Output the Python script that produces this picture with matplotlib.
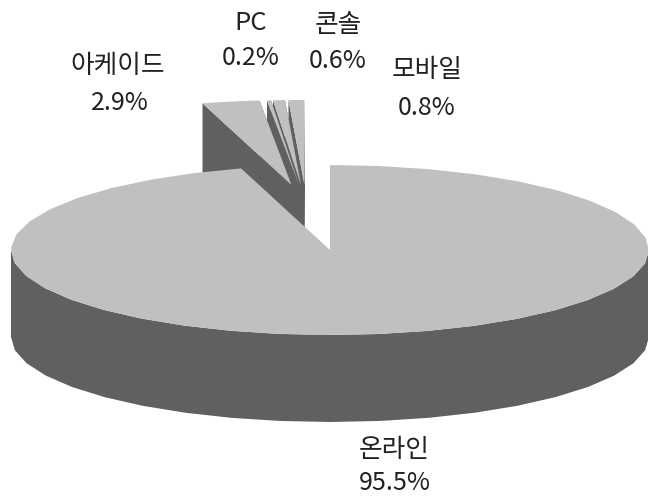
import matplotlib
matplotlib.use("Agg")
import matplotlib.pyplot as plt
from matplotlib.patches import Polygon
import numpy as np

plt.rcParams['font.family'] = ['Noto Sans CJK KR', 'DejaVu Sans']

# clockwise from 12 o'clock
labels = ["온라인", "아케이드", "PC", "콘솔", "모바일"]
values = [95.5, 2.9, 0.2, 0.6, 0.8]

# pulled out slices get their own centre, the big one stays put
centres = [(330, 250), (291.5, 185), (299, 185), (301, 185), (304.5, 185)]
name_pos = [(394, 450), (118, 66), (251, 23), (338, 25), (427, 70)]
value_pos = [(395, 483), (120, 103), (251, 58), (338, 61), (427, 108)]

rx, ry = 319, 85
depth = 87
light = "#c0c0c0"
dark = "#606060"


def edge(c, t):
    # t in degrees, clockwise from the top of the ellipse
    t = np.radians(t)
    return np.column_stack([c[0] + rx * np.sin(t), c[1] - ry * np.cos(t)])


fig = plt.figure(figsize=(6.48, 4.96), dpi=100)
ax = fig.add_axes([0, 0, 1, 1])
ax.set_xlim(0, 648)
ax.set_ylim(496, 0)
ax.axis("off")

angles = np.cumsum([0] + values) / sum(values) * 360
drop = np.array([0, depth])

# small slices: all cut faces first, tops over them
arcs = {}
for i in range(1, 5):
    c = centres[i]
    arcs[i] = edge(c, np.linspace(angles[i], angles[i + 1], 4))
    for end in (arcs[i][0], arcs[i][-1]):
        face = [end, c, np.array(c) + drop, end + drop]
        ax.add_patch(Polygon(face, color=dark, lw=0))
for i in range(1, 5):
    ax.add_patch(Polygon(np.vstack([[centres[i]], arcs[i]]), color=light, lw=0))

# big slice sits in front of them; coarse steps give the faceted rim
c = centres[0]
front = edge(c, np.arange(90, 271, 9))
ax.add_patch(Polygon(np.vstack([front, (front + drop)[::-1]]), color=dark, lw=0))
top = edge(c, np.linspace(angles[0], angles[1], 39))
ax.add_patch(Polygon(np.vstack([[c], top]), color=light, lw=0))

for name, v, np_, vp in zip(labels, values, name_pos, value_pos):
    ax.text(np_[0], np_[1], name, ha="center", va="center", fontsize=18.5, color="#222222")
    ax.text(vp[0], vp[1], f"{v}%", ha="center", va="center", fontsize=18, color="#222222")

fig.savefig("out.png", dpi=100)
